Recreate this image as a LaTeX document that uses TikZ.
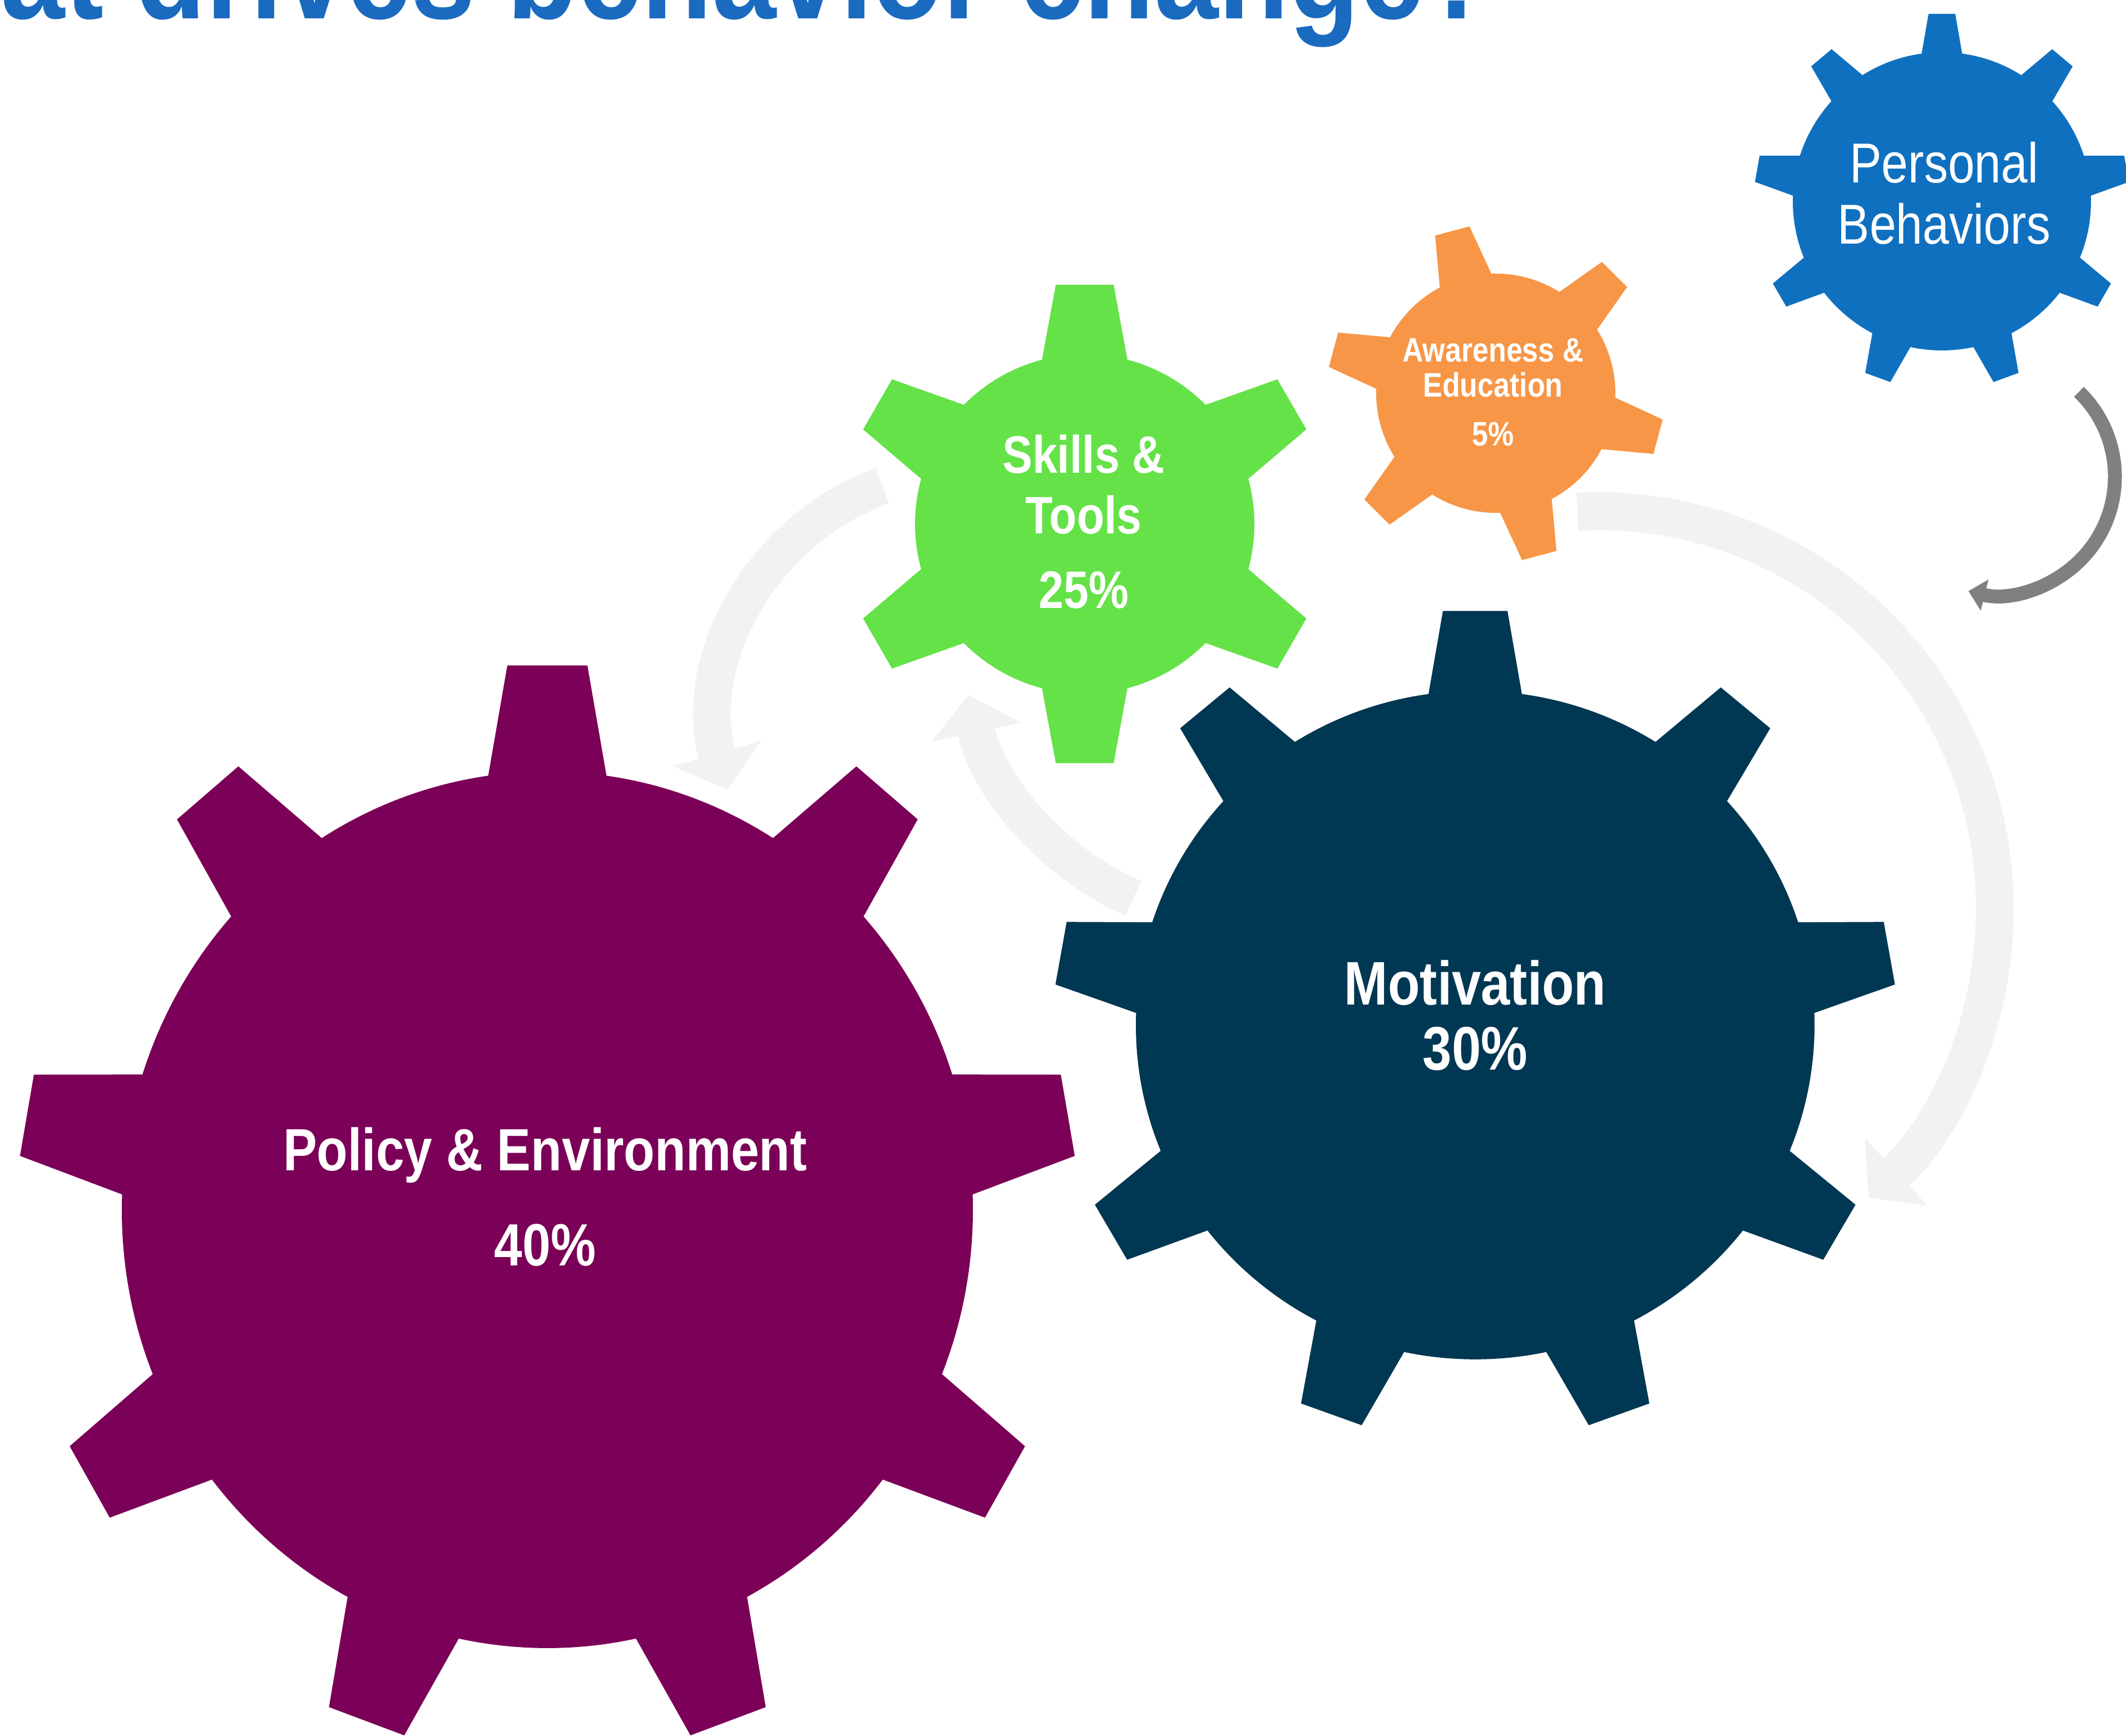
\documentclass[tikz,border=0pt]{standalone}
\usepackage{fontspec}
\newfontfamily\narrowsans[FakeStretch=0.85]{Liberation Sans}
\usetikzlibrary{
    arrows.meta,
    calc}
\definecolor{titleblue}{RGB}{26,106,192}
\definecolor{policycol}{RGB}{123,0,87}
\definecolor{motivcol}{RGB}{0,55,82}
\definecolor{skillscol}{RGB}{100,226,72}
\definecolor{awarecol}{RGB}{247,150,70}
\definecolor{personalcol}{RGB}{15,112,192}
\definecolor{loopgrey}{RGB}{242,242,240}
\definecolor{backgrey}{RGB}{128,128,128}
\newcommand*{\picW}{38.22}
\newcommand*{\picH}{31.21}
% #1 colour, #2 centre, #3 teeth, #4 body radius, #5 tip radius,
% #6 half width at body, #7 half width at tip, #8 angle of first tooth, #9 yscale
\newcommand*{\gear}[9]{
  \begin{scope}[shift={#2}, yscale=#9, rotate=#8]
    \fill[#1] (0,0) circle (#4);
    \pgfmathsetmacro{\gstep}{360/#3}
    \pgfmathsetmacro{\gin}{#6+(#6-#7)*0.1*#4/(#5-#4)}
    \foreach \k in {1,...,#3} {
      \fill[#1, rotate=\k*\gstep] (0.9*#4,-\gin) -- (#5,-#7) -- (#5,#7) -- (0.9*#4,\gin) -- cycle;
    }
  \end{scope}}

\begin{document}
\begin{tikzpicture}[
    loop arrow/.style={draw=loopgrey, line width=0.68cm, -{Triangle[width=1.62cm,length=0.68cm]}},
    back arrow/.style={draw=backgrey, line width=0.25cm, -{Triangle[width=0.56cm,length=0.3cm]}},
    gear label/.style={text=white, align=center, inner sep=0pt}]
    \useasboundingbox (0,0) rectangle (\picW,\picH);
    \clip (0,0) rectangle (\picW,\picH);

    \coordinate (policy-c) at (9.84,9.46);
    \coordinate (motiv-c) at (26.52,12.78);
    \coordinate (skills-c) at (19.50,21.79);
    \coordinate (aware-c) at (26.89,24.14);
    \coordinate (personal-c) at (34.91,27.59);

    % arrows round the gears
    \coordinate (big-c) at (28.73,14.89);
    \coordinate (mid-c) at (22.48,19.79);
    \coordinate (left-c) at (17.40,18.25);
    \coordinate (back-c) at (35.90,22.64);
    \draw[loop arrow] ($(big-c)+(93:7.13)$) arc[start angle=93, end angle=-47, radius=7.13];
    \draw[loop arrow] ($(mid-c)+(246:5.18)$) arc[start angle=246, end angle=192, radius=5.18];
    \draw[loop arrow] ($(left-c)+(110:4.5)$) arc[start angle=110, end angle=196, radius=4.5];
    \draw[back arrow] ($(back-c)+(46:2.12)$) arc[start angle=46, end angle=-104, radius=2.12];

    % gears
    \gear{policycol}{(policy-c)}{9}{7.65}{9.50}{1.05}{0.72}{90}{1.03}
    \gear{motivcol}{(motiv-c)}{9}{6.10}{7.56}{0.83}{0.58}{90}{0.985}
    \gear{skillscol}{(skills-c)}{6}{3.05}{4.30}{0.75}{0.52}{90}{1}
    \gear{awarecol}{(aware-c)}{6}{2.15}{3.02}{0.47}{0.32}{105}{1}
    \gear{personalcol}{(personal-c)}{9}{2.68}{3.37}{0.36}{0.24}{90}{1}

    \node[anchor=base east, text=titleblue, inner sep=0pt,
      font=\narrowsans\bfseries\fontsize{69.4}{72}\selectfont] (title) at (26.87,30.87) {What drives behavior change?};
    \node[gear label, font=\narrowsans\bfseries\fontsize{30.5}{48.6}\selectfont] (policy) at (9.80,9.69) {Policy \& Environment\\40\%};
    \node[gear label, font=\narrowsans\bfseries\fontsize{31.5}{33.3}\selectfont] (motiv) at (26.52,12.95) {Motivation\\30\%};
    \node[gear label, font=\narrowsans\bfseries\fontsize{27}{31}\selectfont] (skills) at (19.48,21.83) {Skills \&\\Tools\\[7pt]25\%};
    \node[gear label, font=\narrowsans\bfseries\fontsize{17.4}{17.9}\selectfont] (aware) at (26.84,24.16) {Awareness \&\\Education\\[7pt]5\%};
    \node[gear label, font=\narrowsans\fontsize{28.8}{31.3}\selectfont] (personal) at (34.95,27.74) {Personal\\Behaviors};
\end{tikzpicture}
\end{document}
